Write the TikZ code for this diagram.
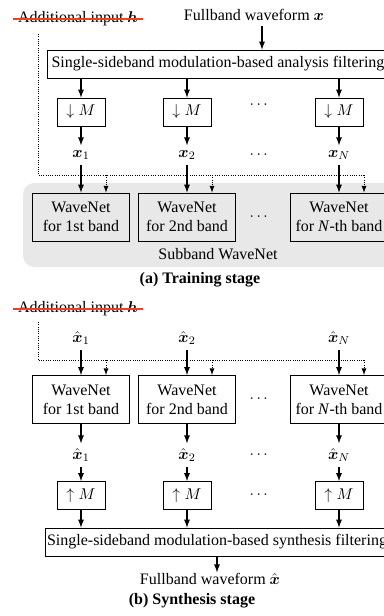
\documentclass[tikz,border=0pt]{standalone}
\usepackage{amsmath}
\usepackage{amssymb}
\usepackage{xcolor}
\usepackage{fontspec}
\setmainfont{Liberation Serif}
\usetikzlibrary{arrows, calc, backgrounds}
\definecolor{strikered}{RGB}{240,64,32}

\tikzset{
    every node/.style={font=\fontsize{11.2}{13.2}\selectfont},
    blk/.style={draw, line width=0.7pt, minimum width=33.6pt, minimum height=19.6pt, inner sep=2pt},
    net/.style={draw, line width=0.7pt, align=center, minimum width=68pt, minimum height=33.6pt, inner sep=1pt},
    wide/.style={draw, line width=0.7pt, minimum width=239pt, minimum height=19.6pt, inner sep=1pt},
    sig/.style={-latex, line width=0.9pt},
    cond/.style={densely dotted, line width=0.6pt},
    strike/.style={strikered, line width=1.3pt}
}

\begin{document}
\begin{tikzpicture}[x=0.7pt, y=-0.7pt]
    \useasboundingbox (0,0) rectangle (383,616);

    % (a) training stage
    \begin{scope}[on background layer]
        \fill[black!9, rounded corners=8pt] (23,183) rectangle (400,267);
    \end{scope}
    \node (addA) at (78,19) {Additional input $\boldsymbol{h}$};
    \draw[strike] (addA.west) -- (addA.east);
    \node (fullA) at (254,15) {Fullband waveform $\boldsymbol{x}$};
    \node[wide] (ana) at (218,64) {Single-sideband modulation-based analysis filtering};
    \foreach \i/\x/\t in {1/81/1st, 2/187/2nd, N/339/\textit{N}-th} {
        \node[blk] (dn\i) at (\x,112) {$\downarrow M$};
        \node (xa\i) at (\x,155) {$\boldsymbol{x}_{\i}$};
        \node[net] (wa\i) at (\x,217) {WaveNet\\for \t{} band};
        \coordinate (ca\i) at ($(wa\i.north)+(25,0)$);
    }
    \node (dotsA1) at (260,105) {$\cdots$};
    \node (dotsA2) at (260,155) {$\cdots$};
    \node (dotsA3) at (260,217) {$\cdots$};
    \node[inner sep=1pt] (subA) at (218,254) {Subband WaveNet};
    \node[inner sep=1pt] (capA) at (200,280) {\textbf{(a) Training stage}};

    \coordinate (inA) at (262,0);
    \draw[sig] (fullA.south -| inA) -- (ana.north -| inA);
    \coordinate (hA) at (38,34);
    \coordinate (hAend) at (364,175);
    \draw[cond] (hA) |- (hAend);
    \foreach \i in {1,2,N} {
        \draw[sig] (ana.south -| dn\i) -- (dn\i);
        \draw[sig] (dn\i) -- (xa\i);
        \draw[sig] (xa\i) -- (wa\i);
        \draw[cond, -latex] (ca\i |- hAend) -- (ca\i);
    }

    % (b) synthesis stage
    \node (addB) at (78,309) {Additional input $\boldsymbol{h}$};
    \draw[strike] (addB.west) -- (addB.east);
    \foreach \i/\x/\t in {1/81/1st, 2/187/2nd, N/339/\textit{N}-th} {
        \node (xb\i) at (\x,338) {$\hat{\boldsymbol{x}}_{\i}$};
        \node[net] (wb\i) at (\x,399.5) {WaveNet\\for \t{} band};
        \node (xc\i) at (\x,455) {$\hat{\boldsymbol{x}}_{\i}$};
        \node[blk] (up\i) at (\x,495.5) {$\uparrow M$};
        \coordinate (cb\i) at ($(wb\i.north)+(25,0)$);
    }
    \node (dotsB1) at (260,399) {$\cdots$};
    \node (dotsB2) at (260,455) {$\cdots$};
    \node (dotsB3) at (260,495) {$\cdots$};
    \node[wide] (syn) at (217,542) {Single-sideband modulation-based synthesis filtering};
    \node[inner sep=0.5pt] (fullB) at (210,579) {Fullband waveform $\hat{\boldsymbol{x}}$};
    \node[inner sep=0.5pt] (capB) at (192,601) {\textbf{(b) Synthesis stage}};

    \coordinate (hB) at (38,322);
    \coordinate (hBend) at (364,360);
    \draw[cond] (hB) |- (hBend);
    \foreach \i in {1,2,N} {
        \draw[sig] (xb\i) -- (wb\i);
        \draw[cond, -latex] (cb\i |- hBend) -- (cb\i);
        \draw[sig] (wb\i) -- (xc\i);
        \draw[sig] (xc\i) -- (up\i);
        \draw[sig] (up\i) -- (syn.north -| up\i);
    }
    \draw[sig] (syn.south) -- (syn.south |- fullB.north);
\end{tikzpicture}
\end{document}
